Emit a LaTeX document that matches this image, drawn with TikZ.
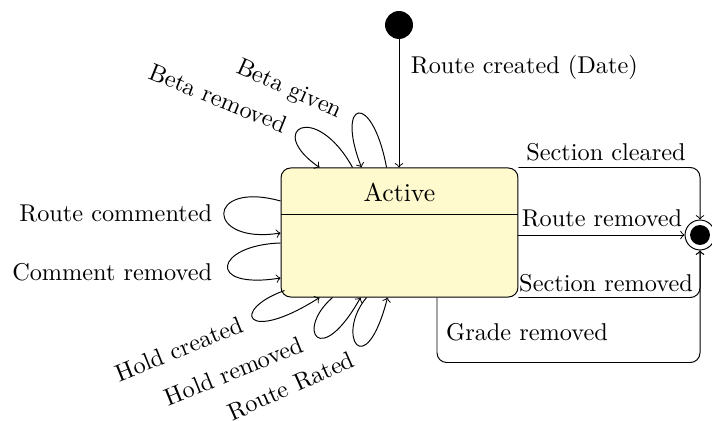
\documentclass[tikz,border=0pt]{standalone}
\usetikzlibrary{calc}
\definecolor{statefill}{RGB}{255,250,205}
\begin{document}
\begin{tikzpicture}[x=0.4115pt,y=-0.4115pt,
  statebox/.style={draw,rounded corners=4pt,fill=statefill,minimum width=97.5pt,minimum height=53.1pt,inner sep=0pt},
  initdot/.style={circle,fill=black,minimum size=11.5pt,inner sep=0pt},
  finalring/.style={circle,draw,minimum size=12.3pt,inner sep=0pt},
  finaldot/.style={circle,fill=black,minimum size=8.2pt,inner sep=0pt},
  trans/.style={->},
  lbl/.style={inner sep=1pt}]
\useasboundingbox (0,0) rectangle (712,421);

% states
\node[initdot] (init) at (399,25) {};
\node[statebox] (active) at (399.5,232.5) {};
\node (title) at (399.5,192) {\fontsize{10.6}{13}\selectfont Active};
\draw (active.west |- 0,214) -- (active.east |- 0,214);
\node[finalring] (final) at (700,235) {};
\node[finaldot] (finalin) at (final) {};

% creation
\draw[trans] (init) -- (init |- active.north);
\node[lbl,anchor=west] (lcreated) at (408,67) {Route created (Date)};

% transitions to the final state
\draw[trans] (active.east |- final) -- (final);
\node[lbl] (lrouterem) at (602,218) {Route removed};
\draw[trans,rounded corners=4pt] (active.north east) -| (final);
\node[lbl] (lseccleared) at (606,152) {Section cleared};
\draw[trans,rounded corners=4pt] (active.south east) -| (final);
\node[lbl] (lsecrem) at (606,283) {Section removed};
\coordinate (gradestart) at ($(active.south)+(37.5,0)$);
\draw[trans,rounded corners=4pt] (gradestart) -- ++(0,65) -| (final);
\node[lbl] (lgraderem) at (527,332) {Grade removed};

% self transitions on the left
\draw[trans] ($(active.west)+(0,-31.5)$) .. controls (205,180) and (205,245) .. ($(active.west)+(0,0.5)$);
\node[lbl,anchor=east] (lcommented) at (215,213) {Route commented};
\draw[trans] ($(active.west)+(0,10.5)$) .. controls (215,245) and (205,290) .. ($(active.west)+(0,45.5)$);
\node[lbl,anchor=east] (lcommentrem) at (215,272) {Comment removed};

% self transitions below
\draw[trans] ($(active.south west)+(4,-7)$) .. controls (230,310) and (245,345) .. ($(active.south west)+(39,0)$);
\node[lbl,rotate=22] (lholdcreated) at (179,349) {Hold created};
\draw[trans] ($(active.south west)+(52,0)$) .. controls (295,330) and (320,370) .. ($(active.south west)+(80,0)$);
\node[lbl,rotate=22] (lholdrem) at (234,371) {Hold removed};
\draw[trans] ($(active.south west)+(86,0)$) .. controls (335,335) and (365,385) .. ($(active.south west)+(107,0)$);
\node[lbl,rotate=24] (lrated) at (291,386) {Route Rated};

% self transitions above
\draw[trans] ($(active.north west)+(72,0)$) .. controls (315,100) and (265,130) .. ($(active.north west)+(39,0)$);
\node[lbl,rotate=-22] (lbetarem) at (218,98) {Beta removed};
\draw[trans] ($(active.north west)+(106,0)$) .. controls (372,90) and (335,100) .. ($(active.north west)+(81,0)$);
\node[lbl,rotate=-24] (lbetagiven) at (289,90) {Beta given};
\end{tikzpicture}
\end{document}
